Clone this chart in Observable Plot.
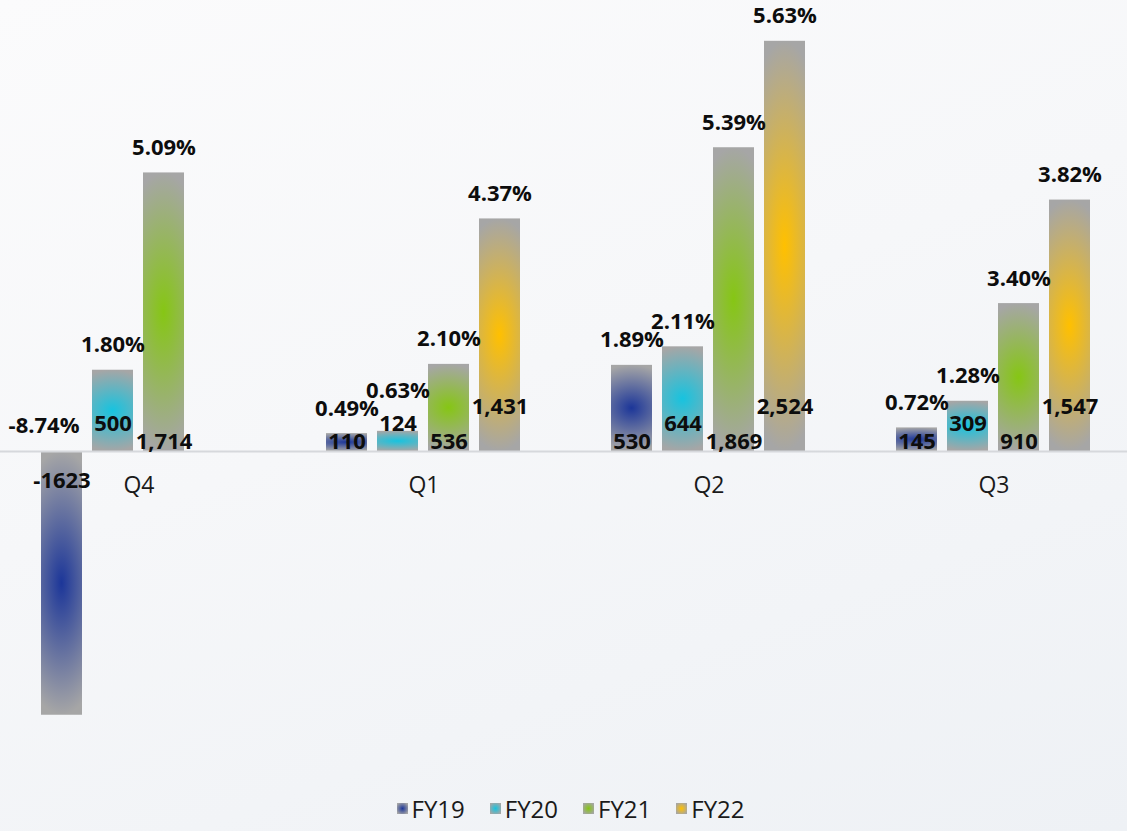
<!DOCTYPE html>
<html><head><meta charset="utf-8">
<script src="https://cdn.jsdelivr.net/npm/d3@7"></script>
<script src="https://cdn.jsdelivr.net/npm/@observablehq/plot@0.6"></script>
<style>
html,body{margin:0;padding:0;}
body{width:1127px;height:831px;overflow:hidden;font-family:"Open Sans",sans-serif;
 background:linear-gradient(160deg,#fbfbfc 0%,#f6f7f9 45%,#eef1f5 100%);}
#legend{display:flex;justify-content:center;align-items:center;height:36px;padding-left:14px;gap:25px;font-size:24px;color:#1a1a1a;}
#legend .it{display:flex;align-items:center;gap:4px;}
#legend .sw{width:11px;height:11px;}
</style></head><body><div id="chart"></div><div id="legend"></div><script>
// ---- data ----
const quarters = ["Q4", "Q1", "Q2", "Q3"];
const years = ["FY19", "FY20", "FY21", "FY22"];
const fy19 = [-1623, 110, 530, 145];
const fy20 = [500, 124, 644, 309];
const fy21 = [1714, 536, 1869, 910];
const fy22 = [null, 1431, 2524, 1547];
const fy19Pct = [-8.74, 0.49, 1.89, 0.72];
const fy20Pct = [1.80, 0.63, 2.11, 1.28];
const fy21Pct = [5.09, 2.10, 5.39, 3.40];
const fy22Pct = [null, 4.37, 5.63, 3.82];
const colors = {FY19: "#1c3699", FY20: "#17c3df", FY21: "#86c614", FY22: "#ffc000"};
const gray = "#a6a6a6";

const series = [[fy19, fy19Pct], [fy20, fy20Pct], [fy21, fy21Pct], [fy22, fy22Pct]];
const rows = [];
quarters.forEach((q, i) => years.forEach((y, j) => {
  const v = series[j][0][i];
  if (v != null) rows.push({q, year: y, v, pct: series[j][1][i]});
}));

// ---- layout ----
const W = 1127, H = 790;
const yDomain = [-2086, 2775];
const pxOf = v => H * (yDomain[1] - v) / (yDomain[1] - yDomain[0]);
const vOf = px => yDomain[1] - px * (yDomain[1] - yDomain[0]) / H;
const liftBySeries = {FY19: 10, FY20: 28, FY21: 10, FY22: 45};
const valueLabelPx = d => d.v < 0 ? pxOf(0) + 29 : pxOf(0) - liftBySeries[d.year];
const pctLabelPx = d => Math.min(pxOf(d.v) - 25, valueLabelPx(d) - 33);
const fmtVal = v => v < 0 ? String(v) : d3.format(",")(v);

const pos = rows.filter(d => d.v >= 0), neg = rows.filter(d => d.v < 0);
const textStyle = {fontSize: 22, fontWeight: "bold", fill: "#0d0d0d"};

const chart = Plot.plot({
  width: W, height: H,
  marginTop: 0, marginRight: 0, marginBottom: 0, marginLeft: 0,
  fx: {domain: quarters, range: [-5, 1137], padding: 0, axis: null},
  x: {domain: years, paddingInner: 0.196, paddingOuter: 0.865, axis: null},
  y: {domain: yDomain, axis: null},
  style: {background: "transparent", fontFamily: "'Open Sans', sans-serif", overflow: "visible"},
  marks: [
    ...years.map(yr => Plot.barY(rows.filter(d => d.year === yr), {fx: "q", x: "year", y: "v", fill: `url(#g${yr})`})),
    Plot.ruleY([0], {stroke: "#d6d8dc", strokeWidth: 2}),
    Plot.text(quarters, {fx: d => d, y: 0, dy: 34, text: d => d, fontSize: 23, fill: "#1a1a1a"}),
    Plot.text(rows, {fx: "q", x: "year", y: d => vOf(valueLabelPx(d)), text: d => fmtVal(d.v), ...textStyle}),
    Plot.text(pos, {fx: "q", x: "year", y: d => vOf(pctLabelPx(d)), text: d => d.pct.toFixed(2) + "%", ...textStyle}),
    Plot.text(neg, {fx: "q", x: "year", y: 0, dy: -26, dx: -18, text: d => d.pct.toFixed(2) + "%", ...textStyle})
  ]
});

// gradient defs
const ns = "http://www.w3.org/2000/svg";
const defs = document.createElementNS(ns, "defs");
years.forEach(yr => {
  const g = document.createElementNS(ns, "radialGradient");
  g.setAttribute("id", "g" + yr);
  g.setAttribute("cx", "0.5"); g.setAttribute("cy", "0.5"); g.setAttribute("r", "0.5");
  g.setAttribute("gradientTransform", "translate(0.5 0.5) scale(2.4 1) translate(-0.5 -0.5)");
  [[0, colors[yr]], [1, gray]].forEach(([o, c]) => {
    const s = document.createElementNS(ns, "stop");
    s.setAttribute("offset", o); s.setAttribute("stop-color", c);
    g.appendChild(s);
  });
  defs.appendChild(g);
});
chart.insertBefore(defs, chart.firstChild);
document.getElementById("chart").appendChild(chart);

// legend
const leg = document.getElementById("legend");
years.forEach(yr => {
  const it = document.createElement("div"); it.className = "it";
  const sw = document.createElement("div"); sw.className = "sw";
  sw.style.background = `radial-gradient(circle, ${colors[yr]} 0%, ${gray} 85%)`;
  const t = document.createElement("span"); t.textContent = yr;
  it.appendChild(sw); it.appendChild(t); leg.appendChild(it);
});
</script></body></html>
